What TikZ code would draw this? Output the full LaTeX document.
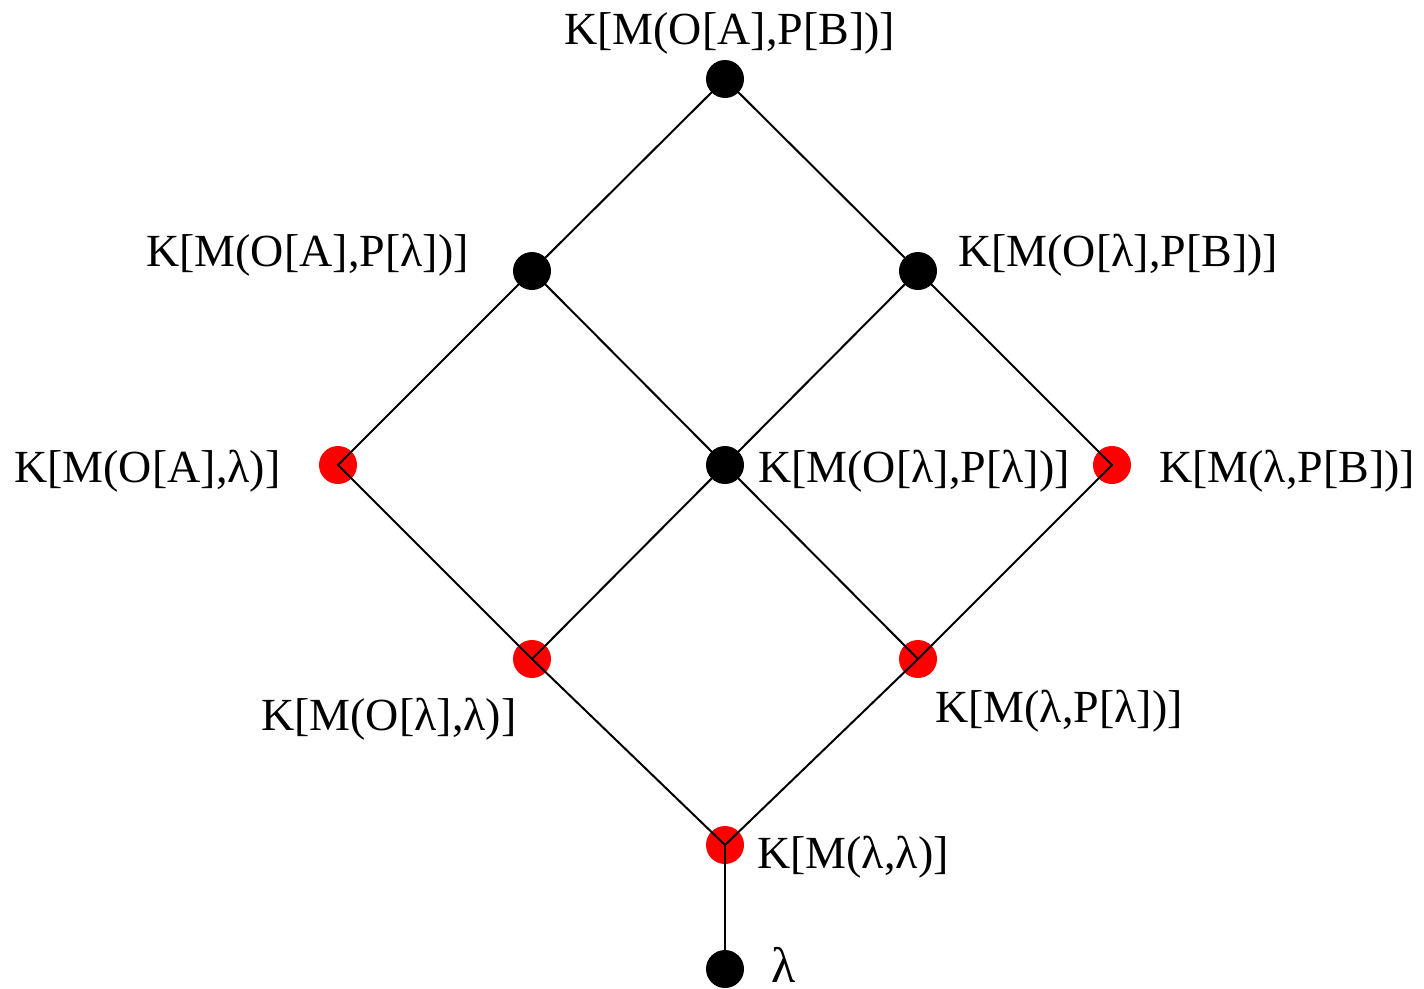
\documentclass[tikz,border=0pt]{standalone}
\usepackage{fontspec}
\setmainfont{Liberation Serif}
\begin{document}
\begin{tikzpicture}[x=1pt,y=-1pt,
  blackdot/.style={circle,fill=black,minimum size=38pt,inner sep=0pt},
  reddot/.style={circle,fill=red,minimum size=38pt,inner sep=0pt},
  lbl/.style={anchor=base west,inner sep=0pt,font=\fontsize{46}{50}\selectfont},
  edge/.style={line width=2pt}]
\useasboundingbox (0,0) rectangle (1424,988);
\node[blackdot] (top) at (725,79) {};
\node[blackdot] (l1) at (532,271) {};
\node[blackdot] (r1) at (918,271) {};
\node[reddot] (l2) at (338,465) {};
\node[blackdot] (c) at (725,465) {};
\node[reddot] (r2) at (1112,465) {};
\node[reddot] (l3) at (532,659) {};
\node[reddot] (r3) at (918,659) {};
\node[reddot] (bot) at (725,845) {};
\node[blackdot] (lam) at (725,969) {};
\draw[edge] (top.center) -- (l1.center) -- (l2.center) -- (l3.center) -- (bot.center) -- (r3.center) -- (r2.center) -- (r1.center) -- (top.center);
\draw[edge] (l1.center) -- (c.center) -- (r3.center);
\draw[edge] (r1.center) -- (c.center) -- (l3.center);
\draw[edge] (bot.center) -- (lam.center);
\node[lbl] (ttop) at (564,44) {K[M(O[A],P[B])]};
\node[lbl] (tl1) at (146,266) {K[M(O[A],P[λ])]};
\node[lbl] (tr1) at (958,266) {K[M(O[λ],P[B])]};
\node[lbl] (tl2) at (14,482) {K[M(O[A],λ)]};
\node[lbl] (tc) at (758,482) {K[M(O[λ],P[λ])]};
\node[lbl] (tr2) at (1159,482) {K[M(λ,P[B])]};
\node[lbl] (tl3) at (261,730) {K[M(O[λ],λ)]};
\node[lbl] (tr3) at (935,722) {K[M(λ,P[λ])]};
\node[lbl] (tbot) at (757,868) {K[M(λ,λ)]};
\node[lbl,font=\fontsize{50}{54}\selectfont] (tlam) at (771,982) {λ};
\end{tikzpicture}
\end{document}
